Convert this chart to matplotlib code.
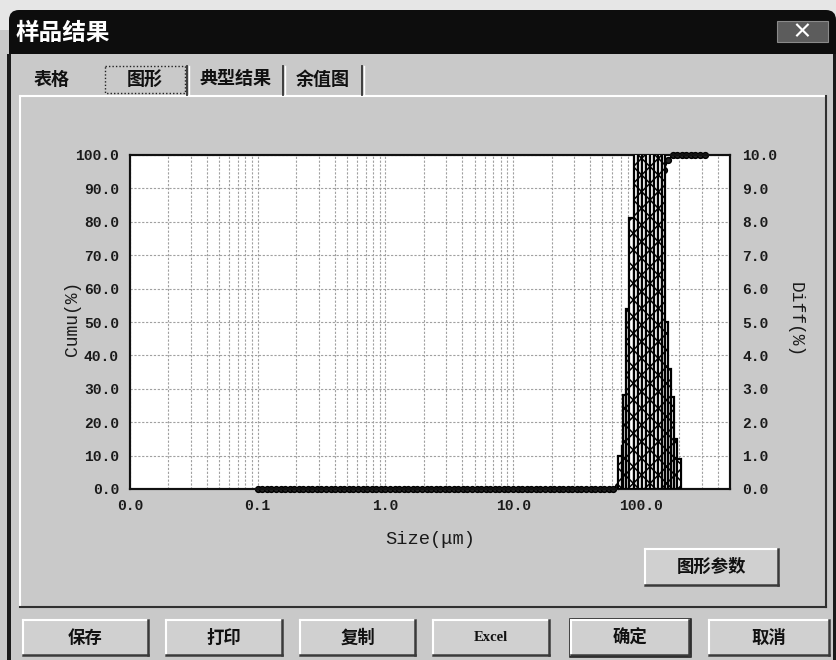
import numpy as np
import matplotlib
matplotlib.use('Agg')
import matplotlib.pyplot as plt
from matplotlib.patches import Rectangle, FancyBboxPatch
from matplotlib.ticker import FixedLocator, NullFormatter

plt.rcParams['hatch.linewidth'] = 1.1
plt.rcParams['hatch.color'] = 'black'

W, H = 837, 660
CJK = ['Noto Sans CJK SC', 'DejaVu Sans']
MONO = ['Liberation Mono', 'DejaVu Sans Mono']

# ---------------- data ----------------
mantissas = [1.00, 1.09, 1.18, 1.28, 1.39, 1.51, 1.64, 1.78, 1.93, 2.10, 2.28, 2.47,
             2.68, 2.91, 3.16, 3.43, 3.73, 4.05, 4.39, 4.77, 5.18, 5.62, 6.11, 6.63,
             7.20, 7.82, 8.48, 9.21]
upper_sizes = [100, 109, 118, 128, 139, 151, 164, 178, 193, 210, 228, 247, 268, 291, 316]
size_classes = [round(m * d, 4) for d in (0.1, 1.0, 10.0) for m in mantissas] + upper_sizes

rise_sizes = [66.3, 72.0, 78.2, 84.8, 92.1, 100, 109, 118, 128, 139, 151, 164, 178]
rise_values = [1.0, 3.0, 8.0, 18.0, 32.0, 48.0, 64.0, 76.0, 85.0, 91.0, 95.5, 98.5, 100.0]
n_low = sum(1 for s in size_classes if s < rise_sizes[0] - 0.01)
n_high = sum(1 for s in size_classes if s > rise_sizes[-1] + 0.01)
cumu = [0.0] * n_low + rise_values + [100.0] * n_high
size_classes = [s for s in size_classes if s < rise_sizes[0] - 0.01] + rise_sizes + \
    [s for s in size_classes if s > rise_sizes[-1] + 0.01]

bar_left = [66, 71, 73, 76, 81, 88, 95, 102, 110, 118, 127, 137, 147, 155, 163, 172, 182, 193]
bar_right = bar_left[1:] + [205]
bar_diff = [1.0, 1.3, 2.8, 5.4, 8.1, 11.0, 13.0, 14.0, 13.5, 12.5, 11.5, 11.0, 10.5,
            5.0, 3.6, 2.75, 1.5, 0.9]

x_ticks = [0.01, 0.1, 1.0, 10.0, 100.0]
x_tick_labels = ['0.0', '0.1', '1.0', '10.0', '100.0']
cumu_ticks = [0, 10, 20, 30, 40, 50, 60, 70, 80, 90, 100]
diff_ticks = [0, 1, 2, 3, 4, 5, 6, 7, 8, 9, 10]

tabs = ['表格', '图形', '典型结果', '余值图']
buttons = ['保存', '打印', '复制', 'Excel', '确定', '取消']

# ---------------- figure ----------------
BG = '#c9c9c9'
fig = plt.figure(figsize=(W / 100, H / 100), dpi=100)
fig.patch.set_facecolor(BG)

bg = fig.add_axes([0, 0, 1, 1], zorder=0)
bg.set_xlim(0, W)
bg.set_ylim(H, 0)
bg.axis('off')

bg.add_patch(Rectangle((0, 0), W, H, facecolor=BG, edgecolor='none'))
bg.add_patch(Rectangle((0, 0), W, 30, facecolor='#e6e6e6', edgecolor='none'))
# title bar (rounded top corners)
bg.add_patch(FancyBboxPatch((17, 18), 811, 28, boxstyle='round,pad=8,rounding_size=10',
                            facecolor='#0d0d0d', edgecolor='none'))
bg.add_patch(Rectangle((9, 30), 827, 24, facecolor='#0d0d0d', edgecolor='none'))
bg.text(16, 33, '样品结果', color='white', fontsize=17, fontweight='bold',
        family=CJK, va='center', ha='left')
# close button
bg.add_patch(Rectangle((777, 21), 51, 21, facecolor='#5c5c5c', edgecolor='#8a8a8a', lw=0.8))
bg.text(802, 31.5, '×', color='white', fontsize=15, fontweight='bold', family=CJK,
        ha='center', va='center')
# window side borders
bg.add_patch(Rectangle((7, 54), 4, H - 54, facecolor='#1a1a1a', edgecolor='none'))
bg.add_patch(Rectangle((833, 54), 4, H - 54, facecolor='#1a1a1a', edgecolor='none'))

# tab panel
bg.plot([20, 826], [96, 96], color='white', lw=1.5)
bg.plot([20, 20], [96, 607], color='white', lw=1.5)
bg.plot([826, 826], [96, 607], color='#303030', lw=1.5)
bg.plot([20, 826], [607, 607], color='#303030', lw=1.5)

# tabs
tab_centers = [52, 145, 235, 323]
for t, cx in zip(tabs, tab_centers):
    bg.text(cx, 79, t, fontsize=13, fontweight='bold', family=CJK,
            ha='center', va='center', color='#111111')
for sx in [187, 283, 362]:
    bg.plot([sx, sx], [66, 95], color='#333333', lw=1.3)
    bg.plot([sx + 2, sx + 2], [66, 95], color='white', lw=1.0)
bg.add_patch(Rectangle((105, 66), 80, 27, facecolor='none', edgecolor='#222222',
                       lw=1.0, linestyle=(0, (1, 1.5))))


def button(x0, y0, x1, y1, label, default=False, fontsize=12.5, family=CJK):
    bg.add_patch(Rectangle((x0, y0), x1 - x0, y1 - y0, facecolor='#d0d0d0',
                           edgecolor='none'))
    bg.plot([x0, x1], [y0, y0], color='white', lw=1.5)
    bg.plot([x0, x0], [y0, y1], color='white', lw=1.5)
    bg.plot([x0, x1], [y1, y1], color='#3a3a3a', lw=1.8)
    bg.plot([x1, x1], [y0, y1], color='#3a3a3a', lw=1.8)
    if default:
        bg.add_patch(Rectangle((x0 - 1, y0 - 1), x1 - x0 + 2, y1 - y0 + 2,
                               facecolor='none', edgecolor='#111111', lw=1.8))
    bg.text((x0 + x1) / 2, (y0 + y1) / 2, label, fontsize=fontsize,
            fontweight='bold', family=family, ha='center', va='center', color='#111111')


button(645, 549, 778, 585, '图形参数')
btn_x = [(23, 148), (166, 282), (300, 415), (433, 549), (571, 689), (709, 829)]
for (x0, x1), lab in zip(btn_x, buttons):
    if lab == 'Excel':
        button(x0, 620, x1, 655, lab, fontsize=10.5, family=['Liberation Serif', 'DejaVu Serif'])
    else:
        button(x0, 620, x1, 655, lab, default=(lab == '确定'))

# ---------------- chart ----------------
L, R, T, B = 130, 730, 155, 489
ax = fig.add_axes([L / W, 1 - B / H, (R - L) / W, (B - T) / H], zorder=2)
ax.set_facecolor('white')
ax.set_xscale('log')
ax.set_xlim(0.01, 500)
ax.set_ylim(0, 100)

minor = [m * d for d in (0.01, 0.1, 1, 10, 100) for m in range(2, 10) if m * d <= 500]
ax.xaxis.set_major_locator(FixedLocator(x_ticks))
ax.xaxis.set_minor_locator(FixedLocator(minor))
ax.xaxis.set_minor_formatter(NullFormatter())
ax.set_xticklabels(x_tick_labels)
ax.set_yticks(cumu_ticks)
ax.set_yticklabels([f'{v:.1f}' for v in cumu_ticks])
ax.grid(True, which='both', axis='x', color='#a0a0a0', lw=0.8, linestyle=(0, (2, 1.5)))
ax.grid(True, which='major', axis='y', color='#a0a0a0', lw=0.8, linestyle=(0, (2, 1.5)))
ax.tick_params(which='both', length=0)
ax.tick_params(axis='y', pad=8)
ax.tick_params(axis='x', pad=7)
for lab in ax.get_xticklabels() + ax.get_yticklabels():
    lab.set_family(MONO)
    lab.set_fontsize(10.5)
    lab.set_fontweight('bold')
    lab.set_color('#1a1a1a')
for sp in ax.spines.values():
    sp.set_linewidth(1.5)
    sp.set_color('#111111')

ax.plot(size_classes, cumu, color='black', lw=1.3, marker='o', markersize=4.2,
        markerfacecolor='#222222', markeredgecolor='black', zorder=2, clip_on=False)

ax2 = ax.twinx()
ax2.set_ylim(0, 10)
ax2.set_yticks(diff_ticks)
ax2.set_yticklabels([f'{v:.1f}' for v in diff_ticks])
ax2.tick_params(which='both', length=0, pad=9)
for lab in ax2.get_yticklabels():
    lab.set_family(MONO)
    lab.set_fontsize(10.5)
    lab.set_fontweight('bold')
    lab.set_color('#1a1a1a')
for sp in ax2.spines.values():
    sp.set_linewidth(1.5)
    sp.set_color('#111111')
widths = [r - l for l, r in zip(bar_left, bar_right)]
ax2.bar(bar_left, bar_diff, width=widths, align='edge', facecolor='white',
        edgecolor='black', linewidth=1.6, hatch='xx', zorder=3)
ax2.set_xlim(0.01, 500)

fig.text(73 / W, 1 - 318 / H, 'Cumu(%)', rotation=90, ha='center', va='center',
         family=MONO, fontsize=13, color='#1a1a1a')
fig.text(795 / W, 1 - 320 / H, 'Diff(%)', rotation=270, ha='center', va='center',
         family=MONO, fontsize=13, color='#1a1a1a')
fig.text(430 / W, 1 - 540 / H, 'Size(μm)', ha='center', va='center',
         family=MONO, fontsize=13.5, color='#1a1a1a')

fig.savefig('out.png', dpi=100)
